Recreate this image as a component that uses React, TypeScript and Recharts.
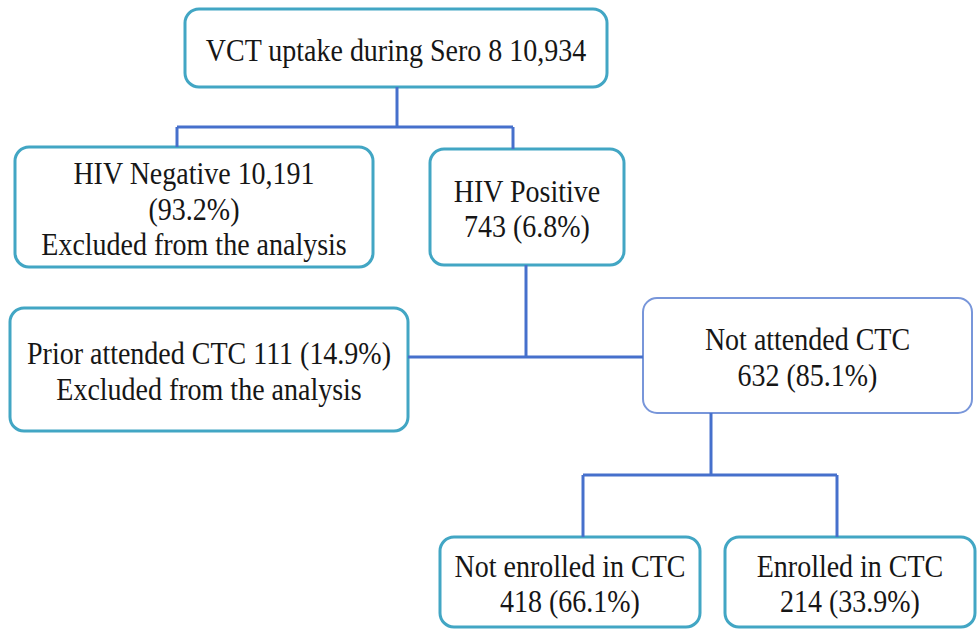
import React from 'react';
import { ScatterChart, Scatter, XAxis, YAxis, ReferenceArea, ReferenceLine } from 'recharts';

// flow counts
const nodeNames = [
  'VCT uptake during Sero 8',
  'HIV Negative',
  'HIV Positive',
  'Prior attended CTC',
  'Not attended CTC',
  'Not enrolled in CTC',
  'Enrolled in CTC',
];
const nodeCounts = [10934, 10191, 743, 111, 632, 418, 214];
const nodePercents: (number | null)[] = [null, 93.2, 6.8, 14.9, 85.1, 66.1, 33.9];
const nodeExcluded = [false, true, false, true, false, false, false];
const EXCLUDED_NOTE = 'Excluded from the analysis';

const TEAL = '#42a6c4';
const SOFT_BLUE = '#7896da';
const LINK = '#4670cc';

// layout in chart units (domain == pixels)
const boxes = [
  { x1: 185, x2: 607, y1: 9, y2: 87, wrap: 'inline', stroke: TEAL, sw: 3 },
  { x1: 15, x2: 373, y1: 147, y2: 267, wrap: 'pctBelow', stroke: TEAL, sw: 3 },
  { x1: 430, x2: 624, y1: 149, y2: 265, wrap: 'countBelow', stroke: TEAL, sw: 3 },
  { x1: 10, x2: 408, y1: 308, y2: 431, wrap: 'inline', stroke: TEAL, sw: 3 },
  { x1: 643, x2: 972, y1: 298, y2: 413, wrap: 'countBelow', stroke: SOFT_BLUE, sw: 2 },
  { x1: 440, x2: 700, y1: 537, y2: 627, wrap: 'countBelow', stroke: TEAL, sw: 3 },
  { x1: 725, x2: 975, y1: 537, y2: 627, wrap: 'countBelow', stroke: TEAL, sw: 3 },
];

const links = [
  [397, 87, 397, 127],
  [177, 127, 513, 127],
  [177, 127, 177, 147],
  [513, 127, 513, 149],
  [526, 265, 526, 357],
  [408, 357, 643, 357],
  [711, 413, 711, 475],
  [583, 475, 837, 475],
  [583, 475, 583, 537],
  [837, 475, 837, 537],
];

const fmt = (n: number) => n.toLocaleString('en-US');

function buildLines(i: number): string[] {
  const name = nodeNames[i];
  const count = fmt(nodeCounts[i]);
  const pct = nodePercents[i];
  const pctText = pct == null ? '' : `(${pct.toFixed(1)}%)`;
  let lines: string[];
  const wrap = boxes[i].wrap;
  if (wrap === 'inline') lines = [`${name} ${count}${pctText ? ' ' + pctText : ''}`];
  else if (wrap === 'pctBelow') lines = [`${name} ${count}`, pctText];
  else lines = [name, `${count} ${pctText}`];
  if (nodeExcluded[i]) lines.push(EXCLUDED_NOTE);
  return lines;
}

const nodeData = nodeNames.map((name, i) => ({
  name,
  x: (boxes[i].x1 + boxes[i].x2) / 2,
  y: (boxes[i].y1 + boxes[i].y2) / 2,
  lines: buildLines(i),
}));

const LINE_H = 35.5;

function NodeText(props: any) {
  const { cx, cy, payload } = props;
  const lines: string[] = payload.lines;
  return (
    <g>
      {lines.map((t, k) => {
        const y = cy + (k - (lines.length - 1) / 2) * LINE_H + 2;
        return (
          <text
            key={k}
            x={0}
            y={0}
            transform={`translate(${cx} ${y}) scale(0.875 1)`}
            textAnchor="middle"
            dominantBaseline="central"
            fontFamily="'Liberation Serif', 'Times New Roman', serif"
            fontSize={32}
            fill="#161616"
          >
            {t}
          </text>
        );
      })}
    </g>
  );
}

export default function App() {
  return (
    <div style={{ position: 'absolute', left: 0, top: 0, background: '#fff' }}>
      <ScatterChart width={980} height={630} margin={{ top: 0, right: 0, bottom: 0, left: 0 }}>
        <XAxis type="number" dataKey="x" domain={[0, 980]} allowDataOverflow hide />
        <YAxis type="number" dataKey="y" domain={[0, 630]} allowDataOverflow reversed hide />
        {links.map(([x1, y1, x2, y2], i) => (
          <ReferenceLine
            key={`l${i}`}
            segment={[{ x: x1, y: y1 }, { x: x2, y: y2 }]}
            stroke={LINK}
            strokeWidth={3}
            ifOverflow="visible"
          />
        ))}
        {boxes.map((b, i) => (
          <ReferenceArea
            key={`b${i}`}
            x1={b.x1}
            x2={b.x2}
            y1={b.y1}
            y2={b.y2}
            ifOverflow="visible"
            shape={(p: any) => (
              <rect
                x={p.x}
                y={p.y}
                width={p.width}
                height={p.height}
                rx={14}
                ry={14}
                fill="#fff"
                stroke={b.stroke}
                strokeWidth={b.sw}
              />
            )}
          />
        ))}
        <Scatter data={nodeData} isAnimationActive={false} shape={<NodeText />} />
      </ScatterChart>
    </div>
  );
}
